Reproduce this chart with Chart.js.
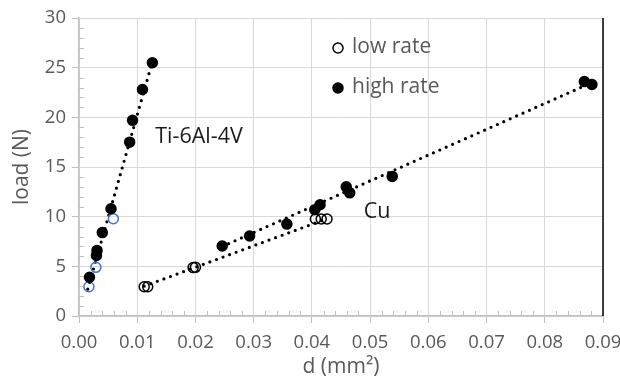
<!DOCTYPE html>
<html>
<head>
<meta charset="utf-8">
<script src="https://cdn.jsdelivr.net/npm/chart.js@4.4.1/dist/chart.umd.min.js"></script>
<style>
  html, body { margin: 0; padding: 0; background: #fff; }
  #wrap { width: 620px; height: 385px; }
</style>
</head>
<body>
<div id="wrap"><canvas id="loadChart" width="620" height="385"></canvas></div>
<script>
// Ti-6Al-4V measurements
const tiLowD = [0.0017, 0.0029, 0.0059];
const tiLowLoad = [2.95, 4.9, 9.8];
const tiHighD = [0.0018, 0.0030, 0.0031, 0.0040, 0.0055, 0.0087, 0.0092, 0.0109, 0.0126];
const tiHighLoad = [3.9, 6.1, 6.6, 8.4, 10.8, 17.5, 19.7, 22.8, 25.5];

// Cu measurements
const cuLowD = [0.0112, 0.0118, 0.0196, 0.0200, 0.0406, 0.0416, 0.0426];
const cuLowLoad = [2.95, 2.95, 4.87, 4.9, 9.77, 9.77, 9.77];
const cuHighD = [0.0246, 0.0293, 0.0357, 0.0405, 0.0414, 0.0459, 0.0465, 0.0538, 0.0868, 0.0881];
const cuHighLoad = [7.05, 8.05, 9.25, 10.7, 11.2, 13.0, 12.4, 14.05, 23.6, 23.3];

// linear trendline end points
const tiFitD = [0.0015, 0.0126];
const tiFitLoad = [2.7, 25.6];
const cuLowFitD = [0.0112, 0.0426];
const cuLowFitLoad = [3.0, 9.8];
const cuHighFitD = [0.0246, 0.0881];
const cuHighFitLoad = [7.0, 23.5];

// axis ticks
const xTicks = [0, 0.01, 0.02, 0.03, 0.04, 0.05, 0.06, 0.07, 0.08, 0.09];
const yTicks = [0, 5, 10, 15, 20, 25, 30];

const FONT = "'Open Sans', 'Noto Sans', sans-serif";
const TEXT = "#595959";

const pts = (xs, ys) => xs.map((x, i) => ({ x: x, y: ys[i] }));

function trend(xs, ys) {
  return {
    type: "line",
    data: pts(xs, ys),
    borderColor: "#000",
    borderWidth: 3.2,
    borderDash: [0, 7],
    borderCapStyle: "round",
    pointRadius: 0,
    fill: false,
    order: 2,
  };
}

function marks(xs, ys, fill, stroke) {
  return {
    type: "scatter",
    data: pts(xs, ys),
    pointRadius: 5,
    pointBackgroundColor: fill,
    pointBorderColor: stroke,
    pointBorderWidth: 1.5,
    order: 1,
  };
}

// minor ticks, black right border, legend and labels
const extras = {
  id: "extras",
  afterDraw(chart) {
    const { ctx, chartArea: a, scales } = chart;
    const xs = scales.x, ys = scales.y;
    ctx.save();
    ctx.strokeStyle = "#bfbfbf";
    ctx.lineWidth = 1;
    for (let i = 1; i < 45; i++) {
      if (i % 5 === 0) continue;
      const px = Math.round(xs.getPixelForValue(i * 0.002)) + 0.5;
      ctx.beginPath();
      ctx.moveTo(px, a.bottom);
      ctx.lineTo(px, a.bottom - 5);
      ctx.stroke();
    }
    for (let i = 1; i < 30; i++) {
      if (i % 5 === 0) continue;
      const py = Math.round(ys.getPixelForValue(i)) + 0.5;
      ctx.beginPath();
      ctx.moveTo(a.left, py);
      ctx.lineTo(a.left + 5, py);
      ctx.stroke();
    }

    ctx.strokeStyle = "#000";
    ctx.lineWidth = 1.5;
    ctx.beginPath();
    ctx.moveTo(a.right, a.top);
    ctx.lineTo(a.right, a.bottom);
    ctx.stroke();

    // legend
    ctx.lineWidth = 1.5;
    ctx.beginPath();
    ctx.arc(338, 48, 5, 0, Math.PI * 2);
    ctx.fillStyle = "#fff";
    ctx.fill();
    ctx.stroke();
    ctx.beginPath();
    ctx.arc(338, 88, 5, 0, Math.PI * 2);
    ctx.fillStyle = "#000";
    ctx.fill();
    ctx.stroke();
    ctx.font = "21px " + FONT;
    ctx.fillStyle = TEXT;
    ctx.textBaseline = "middle";
    ctx.textAlign = "left";
    ctx.fillText("low rate", 352, 47);
    ctx.fillText("high rate", 352, 87);

    // material labels
    ctx.font = "21.5px " + FONT;
    ctx.fillStyle = "#1a1a1a";
    ctx.fillText("Ti-6Al-4V", xs.getPixelForValue(0.0131), ys.getPixelForValue(18.0));
    ctx.fillText("Cu", xs.getPixelForValue(0.0489), ys.getPixelForValue(10.5));
    ctx.restore();
  },
};

new Chart(document.getElementById("loadChart"), {
  data: {
    datasets: [
      marks(tiHighD, tiHighLoad, "#000", "#000"),
      marks(cuHighD, cuHighLoad, "#000", "#000"),
      marks(tiLowD, tiLowLoad, "rgba(255,255,255,0)", "#4472c4"),
      marks(cuLowD, cuLowLoad, "rgba(255,255,255,0)", "#000"),
      trend(tiFitD, tiFitLoad),
      trend(cuLowFitD, cuLowFitLoad),
      trend(cuHighFitD, cuHighFitLoad),
    ],
  },
  options: {
    responsive: false,
    animation: false,
    layout: { padding: { top: 18, right: 17, left: 0, bottom: 0 } },
    plugins: { legend: { display: false }, tooltip: { enabled: false } },
    scales: {
      x: {
        type: "linear",
        min: 0,
        max: 0.09,
        afterBuildTicks: (s) => { s.ticks = xTicks.map((v) => ({ value: v })); },
        afterFit: (s) => { s.height = 69; s.paddingLeft = 0; s.paddingRight = 0; },
        ticks: {
          callback: (v) => v.toFixed(2),
          font: { family: FONT, size: 18.5 },
          color: TEXT,
          padding: 9,
          maxRotation: 0,
        },
        grid: { color: "#d9d9d9", tickColor: "#bfbfbf", tickLength: 7, lineWidth: 1 },
        border: { color: "#bfbfbf", width: 1.5 },
        title: {
          display: true,
          text: "d (mm²)",
          font: { family: FONT, size: 21 },
          color: TEXT,
          padding: { top: 0, bottom: 5 },
        },
      },
      y: {
        type: "linear",
        min: 0,
        max: 30,
        afterBuildTicks: (s) => { s.ticks = yTicks.map((v) => ({ value: v })); },
        afterFit: (s) => { s.width = 79; },
        ticks: {
          font: { family: FONT, size: 18.5 },
          color: TEXT,
          padding: 6,
        },
        grid: { color: "#d9d9d9", tickColor: "#bfbfbf", tickLength: 7, lineWidth: 1 },
        border: { color: "#bfbfbf", width: 1.5 },
        title: {
          display: true,
          text: "load (N)",
          font: { family: FONT, size: 21 },
          color: TEXT,
          padding: { top: 9, bottom: 0 },
        },
      },
    },
  },
  plugins: [extras],
});
</script>
</body>
</html>
